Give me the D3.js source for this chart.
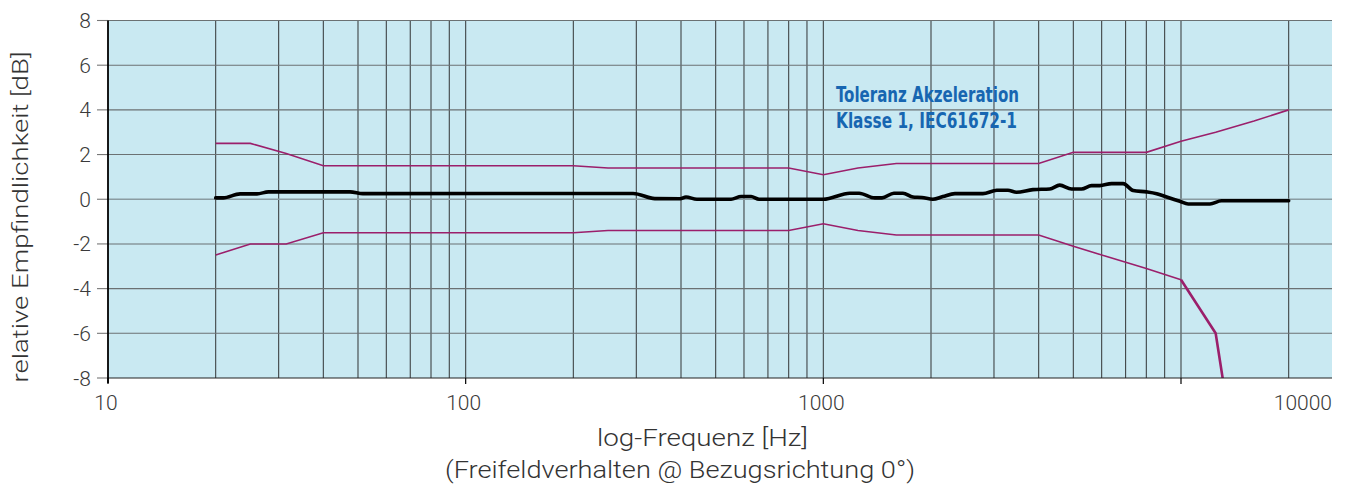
<!DOCTYPE html>
<html>
<head>
<meta charset="utf-8">
<script src="https://cdn.jsdelivr.net/npm/d3@7"></script>
<style>
  html, body { margin: 0; padding: 0; background: #fff; }
  svg { display: block; }
</style>
</head>
<body>
<svg id="chart" width="1347" height="484"></svg>
<script>
// ---------- data ----------
const yTickValues = [-8, -6, -4, -2, 0, 2, 4, 6, 8];
const yTickLabels = ["-8", "-6", "-4", "-2", "0", "2", "4", "6", "8"];
const xTickValues = [10, 100, 1000, 10000];
const xTickLabels = ["10", "100", "1000", "10000"];

// IEC 61672-1 class 1 tolerance limits (as drawn)
const tolFreq  = [20, 25, 31.5, 40, 50, 63, 80, 100, 125, 160, 200, 250, 315, 400, 500, 630, 800, 1000, 1250, 1600, 2000, 2500, 3150, 4000, 5000, 6300, 8000, 10000, 12500, 16000, 20000];
const tolUpper = [2.5, 2.5, 2.05, 1.5, 1.5, 1.5, 1.5, 1.5, 1.5, 1.5, 1.5, 1.4, 1.4, 1.4, 1.4, 1.4, 1.4, 1.1, 1.4, 1.6, 1.6, 1.6, 1.6, 1.6, 2.1, 2.1, 2.1, 2.6, 3.0, 3.5, 4.0];
const tolLower = [-2.5, -2.0, -2.0, -1.5, -1.5, -1.5, -1.5, -1.5, -1.5, -1.5, -1.5, -1.4, -1.4, -1.4, -1.4, -1.4, -1.4, -1.1, -1.4, -1.6, -1.6, -1.6, -1.6, -1.6, -2.1, -2.6, -3.1, -3.6, -6.0, -17, null];

// measured free-field response
const respFreq = [20, 21, 23.4, 26.1, 28.1, 47.5, 51.6, 294, 338, 398, 413, 443, 552, 589, 628, 661, 1000, 1186, 1259, 1393, 1459, 1575, 1670, 1780, 1886, 2024, 2159, 2333, 2793, 3055, 3281, 3467, 3854, 4297, 4581, 4942, 5272, 5623, 5930, 6395, 6891, 7350, 8017, 8550, 9120, 9930, 10475, 12050, 12980, 20000];
const respDb   = [0.06, 0.06, 0.24, 0.24, 0.33, 0.33, 0.25, 0.26, 0.03, 0.02, 0.1, 0.0, 0.0, 0.12, 0.12, 0.0, 0.0, 0.27, 0.27, 0.06, 0.06, 0.27, 0.27, 0.1, 0.08, 0.0, 0.12, 0.25, 0.25, 0.4, 0.4, 0.31, 0.43, 0.46, 0.63, 0.46, 0.46, 0.61, 0.61, 0.70, 0.70, 0.39, 0.33, 0.25, 0.1, -0.09, -0.21, -0.21, -0.07, -0.07];

const annotationLines = ["Toleranz Akzeleration", "Klasse 1, IEC61672-1"];
const xTitle = "log-Frequenz [Hz]";
const xSubTitle = "(Freifeldverhalten @ Bezugsrichtung 0°)";
const yTitle = "relative Empfindlichkeit [dB]";

// ---------- layout ----------
const plotLeft = 108, plotRight = 1332, plotTop = 20.5, plotBottom = 378;
const x = d3.scaleLog().domain([10, 10000]).range([plotLeft, 1181]);
const y = d3.scaleLinear().domain([-8, 8]).range([plotBottom, plotTop]);
const fMax = x.invert(plotRight);

const lightFont = "Roboto, 'Helvetica Neue', 'Liberation Sans', Arial, sans-serif";
const svg = d3.select("#chart");

svg.append("defs").append("clipPath").attr("id", "plotClip")
  .append("rect").attr("x", plotLeft).attr("y", plotTop)
  .attr("width", plotRight - plotLeft).attr("height", plotBottom - plotTop);

// background
svg.append("rect")
  .attr("x", plotLeft).attr("y", plotTop)
  .attr("width", plotRight - plotLeft).attr("height", plotBottom - plotTop)
  .attr("fill", "#c9e9f2");

// vertical grid (log minor lines)
const gridFreqs = [];
for (let dec = 10; dec < fMax; dec *= 10) {
  for (let m = 1; m <= 9; m++) {
    const f = dec * m;
    if (f > 10 && f < fMax) gridFreqs.push(f);
  }
}
svg.append("g").selectAll("line").data(gridFreqs).join("line")
  .attr("x1", d => x(d)).attr("x2", d => x(d))
  .attr("y1", plotTop).attr("y2", plotBottom)
  .attr("stroke", "#3f4446").attr("stroke-width", 1.1);

// horizontal grid
svg.append("g").selectAll("line").data(yTickValues.filter(v => v > -8)).join("line")
  .attr("x1", plotLeft).attr("x2", plotRight)
  .attr("y1", d => y(d)).attr("y2", d => y(d))
  .attr("stroke", d => d === 0 ? "#8a9ca2" : "#6b7173").attr("stroke-width", d => d === 0 ? 1.6 : 1.1);

// y axis ticks + labels
const yAxisG = svg.append("g");
yAxisG.selectAll("line").data(yTickValues).join("line")
  .attr("x1", 97).attr("x2", plotLeft)
  .attr("y1", d => y(d)).attr("y2", d => y(d))
  .attr("stroke", "#777").attr("stroke-width", 1.1);
yAxisG.selectAll("text").data(yTickValues).join("text")
  .attr("x", 91).attr("y", d => y(d) + 7.5)
  .attr("text-anchor", "end")
  .attr("font-family", lightFont).attr("font-weight", 300)
  .attr("font-size", 21).attr("fill", "#3a3a3a")
  .text((d, i) => yTickLabels[i]);

// tolerance lines
const tolData = tolFreq.map((f, i) => ({ f, up: tolUpper[i], lo: tolLower[i] }));
const plotG = svg.append("g").attr("clip-path", "url(#plotClip)");
const upperLine = d3.line().x(d => x(d.f)).y(d => y(d.up));
const lowerLine = d3.line().defined(d => d.lo !== null).x(d => x(d.f)).y(d => y(d.lo));
plotG.append("path").datum(tolData).attr("d", upperLine)
  .attr("fill", "none").attr("stroke", "#9b1f6b").attr("stroke-width", 1.6);
plotG.append("path").datum(tolData.filter(d => d.f <= 10000)).attr("d", lowerLine)
  .attr("fill", "none").attr("stroke", "#9b1f6b").attr("stroke-width", 1.6);
plotG.append("path").datum(tolData.filter(d => d.f >= 10000)).attr("d", lowerLine)
  .attr("fill", "none").attr("stroke", "#9b1f6b").attr("stroke-width", 2.6)
  .attr("stroke-linejoin", "round");

// measured response
const respData = respFreq.map((f, i) => ({ f, v: respDb[i] }));
plotG.append("path").datum(respData)
  .attr("d", d3.line().curve(d3.curveMonotoneX).x(d => x(d.f)).y(d => y(d.v)))
  .attr("fill", "none").attr("stroke", "#000").attr("stroke-width", 3.6)
  .attr("stroke-linejoin", "round").attr("stroke-linecap", "round");

// axes lines
svg.append("line").attr("x1", plotLeft).attr("x2", plotRight)
  .attr("y1", plotBottom).attr("y2", plotBottom)
  .attr("stroke", "#222").attr("stroke-width", 1.2);
svg.append("line").attr("x1", plotLeft).attr("x2", plotLeft)
  .attr("y1", plotTop).attr("y2", 383)
  .attr("stroke", "#000").attr("stroke-width", 1.8);

// x ticks + labels
const xAxisG = svg.append("g");
xAxisG.selectAll("line").data(xTickValues).join("line")
  .attr("x1", d => x(d)).attr("x2", d => x(d))
  .attr("y1", plotBottom).attr("y2", 384)
  .attr("stroke", "#000").attr("stroke-width", 1.2);
xAxisG.selectAll("text").data(xTickValues).join("text")
  .attr("x", (d, i) => i === xTickValues.length - 1 ? plotRight : x(d) - 2)
  .attr("y", 410)
  .attr("text-anchor", (d, i) => i === xTickValues.length - 1 ? "end" : "middle")
  .attr("font-family", lightFont).attr("font-weight", 300)
  .attr("font-size", 21).attr("fill", "#3a3a3a")
  .text((d, i) => xTickLabels[i]);

// titles (widths matched to the reference)
function lightText(g, str, size, len) {
  return g.append("text")
    .attr("text-anchor", "middle")
    .attr("font-family", lightFont).attr("font-weight", 300)
    .attr("font-size", size).attr("fill", "#333")
    .attr("textLength", len).attr("lengthAdjust", "spacingAndGlyphs")
    .text(str);
}
lightText(svg, xTitle, 23.5, 211).attr("x", 702.5).attr("y", 446);
lightText(svg, xSubTitle, 23.5, 470).attr("x", 680).attr("y", 478);
lightText(svg, yTitle, 22.5, 331).attr("transform", "translate(28,217) rotate(-90)");

// annotation
const annG = svg.append("g");
annG.selectAll("text").data(annotationLines).join("text")
  .attr("x", 836).attr("y", (d, i) => 102 + i * 25.5)
  .attr("font-family", "'Liberation Sans Narrow', 'DejaVu Sans Condensed', 'Roboto Condensed', Arial, sans-serif")
  .attr("font-weight", "bold").attr("font-size", 20.5)
  .attr("fill", "#1766b1")
  .attr("textLength", (d, i) => i === 0 ? 183 : 181)
  .attr("lengthAdjust", "spacingAndGlyphs")
  .text(d => d);
</script>
</body>
</html>
